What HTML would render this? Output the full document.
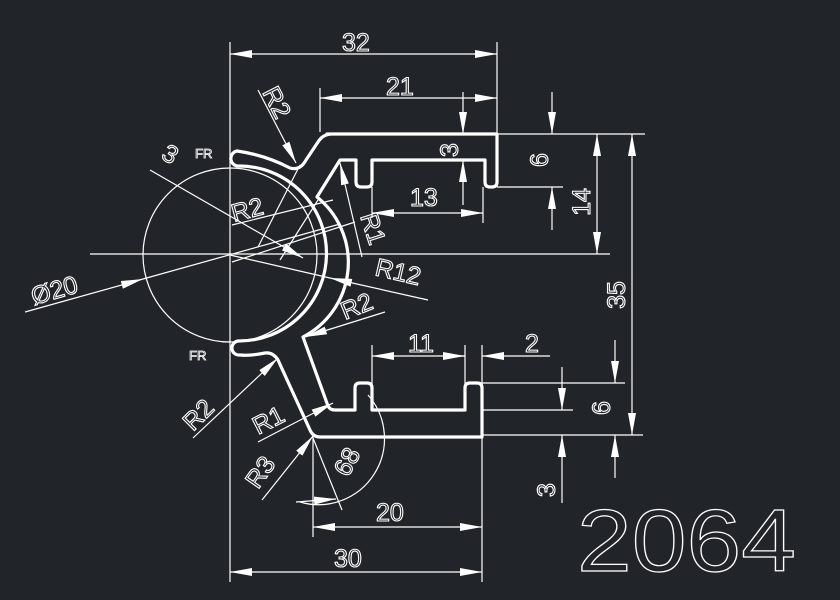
<!DOCTYPE html>
<html><head><meta charset="utf-8"><style>
html,body{margin:0;padding:0;background:#212429;}
svg{display:block}
text{font-family:"Liberation Sans",sans-serif;fill:none;stroke:#fff;stroke-width:1.1;font-size:25px}
</style></head><body>
<svg width="840" height="600" viewBox="0 0 840 600" xmlns="http://www.w3.org/2000/svg">
<defs>
<marker id="a" viewBox="0 0 22 8" refX="22" refY="4" markerWidth="22" markerHeight="8" markerUnits="userSpaceOnUse" orient="auto-start-reverse">
<path d="M0,0 L22,4 L0,8 Z" fill="#fff"/></marker>
</defs>
<rect width="840" height="600" fill="#212429"/>
<g stroke="#fff" stroke-width="1.2" fill="none">
<!-- extension & center lines -->
<line x1="230" y1="42" x2="230" y2="582"/>
<line x1="497" y1="42" x2="497" y2="134"/>
<line x1="320" y1="88" x2="320" y2="132"/>
<line x1="90" y1="254" x2="610" y2="254"/>
<line x1="497" y1="134" x2="645" y2="134"/>
<line x1="497" y1="187" x2="563" y2="187"/>
<line x1="372" y1="187" x2="372" y2="218"/>
<line x1="483" y1="187" x2="483" y2="223"/>
<line x1="482" y1="435" x2="643" y2="435"/>
<line x1="482" y1="383" x2="625" y2="383"/>
<line x1="482" y1="410" x2="573" y2="410"/>
<line x1="372" y1="345" x2="372" y2="385"/>
<line x1="465" y1="345" x2="465" y2="385"/>
<line x1="482" y1="345" x2="482" y2="582"/>
<line x1="313" y1="437" x2="313" y2="537"/>
<circle cx="230" cy="255" r="87"/>
<!-- dimensions -->
<line x1="230" y1="54" x2="497" y2="54" marker-start="url(#a)" marker-end="url(#a)"/>
<line x1="320" y1="98" x2="497" y2="98" marker-start="url(#a)" marker-end="url(#a)"/>
<line x1="463" y1="92" x2="463" y2="134" marker-end="url(#a)"/>
<line x1="463" y1="205" x2="463" y2="160" marker-end="url(#a)"/>
<line x1="372" y1="213" x2="483" y2="213" marker-start="url(#a)" marker-end="url(#a)"/>
<line x1="552" y1="92" x2="552" y2="134" marker-end="url(#a)"/>
<line x1="552" y1="230" x2="552" y2="187" marker-end="url(#a)"/>
<line x1="597" y1="134" x2="597" y2="254" marker-start="url(#a)" marker-end="url(#a)"/>
<line x1="632" y1="134" x2="632" y2="435" marker-start="url(#a)" marker-end="url(#a)"/>
<line x1="372" y1="356" x2="465" y2="356" marker-start="url(#a)" marker-end="url(#a)"/>
<line x1="550" y1="356" x2="482" y2="356" marker-end="url(#a)"/>
<line x1="445" y1="356" x2="465" y2="356"/>
<line x1="615" y1="340" x2="615" y2="383" marker-end="url(#a)"/>
<line x1="615" y1="478" x2="615" y2="435" marker-end="url(#a)"/>
<line x1="562" y1="367" x2="562" y2="410" marker-end="url(#a)"/>
<line x1="562" y1="503" x2="562" y2="435" marker-end="url(#a)"/>
<line x1="313" y1="527" x2="482" y2="527" marker-start="url(#a)" marker-end="url(#a)"/>
<line x1="230" y1="572" x2="482" y2="572" marker-start="url(#a)" marker-end="url(#a)"/>
<!-- leaders -->
<line x1="258" y1="90" x2="296" y2="163" marker-end="url(#a)"/>
<line x1="150" y1="170" x2="303" y2="258" marker-end="url(#a)"/>
<line x1="232" y1="225" x2="333" y2="200"/>
<line x1="258" y1="247" x2="300" y2="165"/>
<line x1="280" y1="260" x2="318" y2="200"/>
<line x1="232" y1="262" x2="355" y2="222"/>
<line x1="362" y1="257" x2="340" y2="163" marker-end="url(#a)"/>
<line x1="428" y1="300" x2="330" y2="278" marker-end="url(#a)"/>
<line x1="230" y1="255" x2="330" y2="278"/>
<line x1="385" y1="312" x2="305" y2="337" marker-end="url(#a)"/>
<line x1="25" y1="312" x2="143" y2="279" marker-end="url(#a)"/>
<line x1="143" y1="279" x2="340" y2="224"/>
<line x1="193" y1="438" x2="278" y2="358" marker-end="url(#a)"/>
<line x1="258" y1="442" x2="333" y2="403" marker-end="url(#a)"/>
<line x1="262" y1="500" x2="313" y2="436" marker-end="url(#a)"/>
<line x1="313" y1="438" x2="342" y2="510"/>
<path d="M368 395 A66 66 0 0 1 300 502"/>
<line x1="296" y1="502" x2="336" y2="499" marker-end="url(#a)"/>
</g>
<!-- profile -->
<path d="M327 134 L497 134 L497 182 Q497 187 492 187 L490 187 Q485 187 485 182 L485 160 L372 160 L372 182 Q372 187 367 187 L361 187 Q356 187 356 182 L356 160 L340 160 L317 197 A84 84 0 0 1 303 337 L328 406 Q330 410 335 410 L355 410 L355 388 Q355 383 360 383 L367 383 Q372 383 372 388 L372 410 L465 410 L465 388 Q465 383 470 383 L477 383 Q482 383 482 388 L482 437 L320 437 Q313 437 310 430 L278 360 Q273 352 265 353 Q250 356 240 355 A7 7 0 0 1 238 341 A84 84 0 0 0 240 166 A7 7 0 0 1 237 151 Q265 155 290 168 Q300 171 306 160 L318 142 Q323 134 332 134 Z" fill="none" stroke="#fff" stroke-width="3.2" stroke-linejoin="round"/>
<!-- labels -->
<text x="342" y="51">32</text>
<text x="386" y="95">21</text>
<text x="410" y="206">13</text>
<text x="408" y="352">11</text>
<text x="525" y="352">2</text>
<text x="376" y="521">20</text>
<text x="334" y="567">30</text>
<text transform="translate(458,150) rotate(-90)" text-anchor="middle">3</text>
<text transform="translate(548,160) rotate(-90)" text-anchor="middle">6</text>
<text transform="translate(590,202) rotate(-90)" text-anchor="middle">14</text>
<text transform="translate(625,295) rotate(-90)" text-anchor="middle">35</text>
<text transform="translate(610,408) rotate(-90)" text-anchor="middle">6</text>
<text transform="translate(555,490) rotate(-90)" text-anchor="middle">3</text>
<text transform="translate(262,92) rotate(63)">R2</text>
<text transform="translate(160,158) rotate(30)">3</text>
<text transform="translate(234,222) rotate(-15)">R2</text>
<text transform="translate(360,216) rotate(72)">R1</text>
<text transform="translate(374,275) rotate(13)">R12</text>
<text transform="translate(345,320) rotate(-22)">R2</text>
<text transform="translate(34,305) rotate(-16)">Ø20</text>
<text transform="translate(193,432) rotate(-45)">R2</text>
<text transform="translate(258,435) rotate(-27)">R1</text>
<text transform="translate(258,490) rotate(-55)">R3</text>
<text transform="translate(348,478) rotate(-62)">68</text>
<text x="195" y="158" style="font-size:13px;stroke-width:0.8">FR</text>
<text x="189" y="360" style="font-size:13px;stroke-width:0.8">FR</text>
<text x="577" y="571" textLength="219" lengthAdjust="spacingAndGlyphs" style="font-size:88px;stroke-width:1.2">2064</text>
</svg>
</body></html>
